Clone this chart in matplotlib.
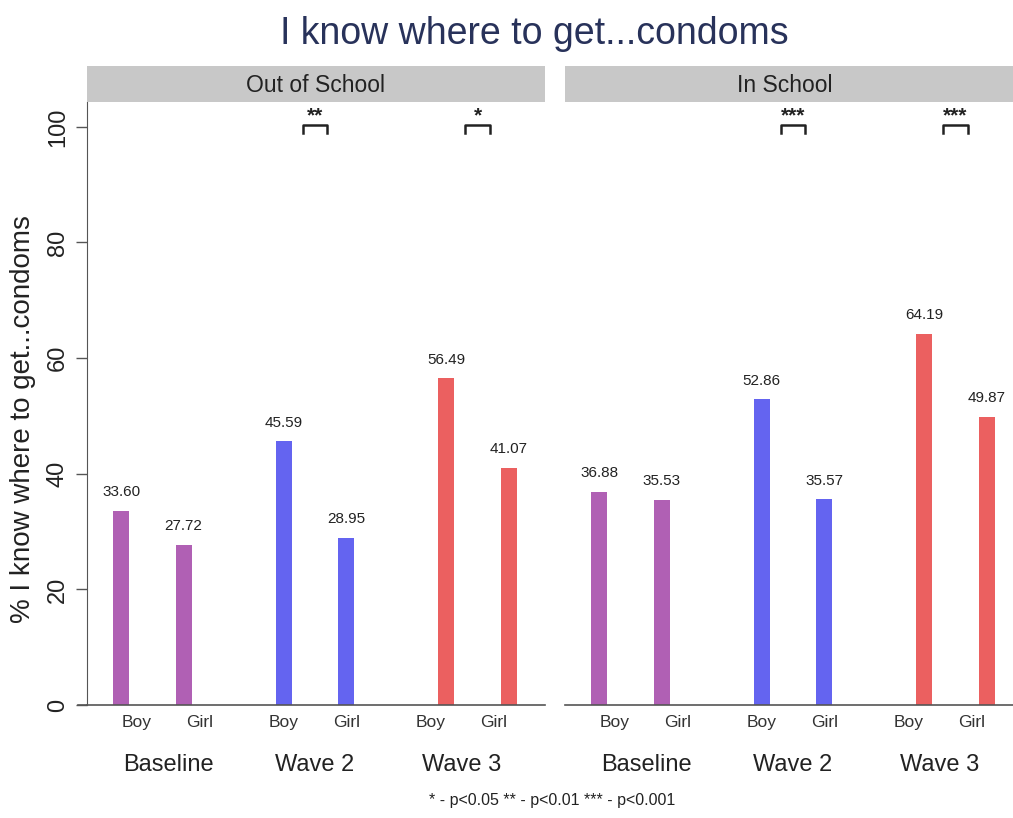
import matplotlib
matplotlib.use('Agg')
import matplotlib.pyplot as plt
import numpy as np

plt.rcParams['font.family'] = ['Liberation Sans', 'DejaVu Sans']

# data
panels = ['Out of School', 'In School']
waves = ['Baseline', 'Wave 2', 'Wave 3']
sexes = ['Boy', 'Girl']
out_school = [33.60, 27.72, 45.59, 28.95, 56.49, 41.07]
in_school = [36.88, 35.53, 52.86, 35.57, 64.19, 49.87]
stars_out = ['', '**', '*']
stars_in = ['', '***', '***']

wave_colors = ['#b060b4', '#6464f0', '#eb6060']
title_color = '#28325a'
txt = '#222222'

fig = plt.figure(figsize=(10.13, 8.18), dpi=100)

bar_mid = 4.98
bar_gap = 3.55
lab_gap = 3.21
pair_off = 0.68

lefts = [87 / 1013, 565 / 1013]
for p, (name, vals, stars) in enumerate(zip(panels, [out_school, in_school],
                                               [stars_out, stars_in])):
    ax = fig.add_axes([lefts[p], 0.1381, 0.452, 0.7372])
    xs, cols, lx = [], [], []
    for g in range(3):
        for s in range(2):
            xs.append(bar_mid + (g - 1) * bar_gap + (s - 0.5) * 2 * pair_off)
            lx.append(bar_mid + (g - 1) * lab_gap + (s - 0.5) * 2 * pair_off)
            cols.append(wave_colors[g])
    ax.bar(xs, vals, width=0.35, color=cols, zorder=2)
    for x, v in zip(xs, vals):
        ax.text(x, v + 2.0, '%.2f' % v, ha='center', va='bottom',
                fontsize=11, color=txt)
    for g in range(3):
        if stars[g]:
            c = bar_mid + (g - 1) * bar_gap
            ax.plot([c - 0.27, c - 0.27, c + 0.27, c + 0.27],
                    [99.0, 100.3, 100.3, 99.0], color=txt, lw=1.8,
                    clip_on=False)
            ax.text(c, 100.3, stars[g], ha='center', va='bottom',
                    fontsize=15, fontweight='bold', color=txt)
        ax.text(bar_mid + (g - 1) * lab_gap, -10.3, waves[g], ha='center',
                va='center', fontsize=17, color=txt)
    ax.set_xticks(lx)
    ax.set_xticklabels(sexes * 3, fontsize=12.5, color='#333333')
    ax.tick_params(axis='x', length=0, pad=7)
    ax.set_xlim(0, 10)
    ax.set_ylim(0, 104.3)
    for sp in ['top', 'right']:
        ax.spines[sp].set_visible(False)
    ax.spines['bottom'].set_color('#555555')
    ax.spines['bottom'].set_linewidth(1.2)
    if p == 0:
        ax.plot([-0.2, 0], [0, 0], color='#555555', lw=1.2, clip_on=False)
        ax.set_yticks([0, 20, 40, 60, 80, 100])
        ax.set_yticklabels(['0', '20', '40', '60', '80', '100'],
                           rotation=90, va='center', fontsize=17,
                           color=txt)
        ax.tick_params(axis='y', length=8, width=1, color='#555555', pad=5)
        ax.spines['left'].set_color('#555555')
        ax.set_ylabel('% I know where to get...condoms', fontsize=20,
                      color=txt)
        ax.yaxis.set_label_coords(-0.111, 0.474)
    else:
        ax.spines['left'].set_visible(False)
        ax.set_yticks([])
    # strip header
    hd = fig.add_axes([lefts[p], 0.8753, 0.452, 0.044])
    hd.set_facecolor('#c8c8c8')
    hd.set_xticks([])
    hd.set_yticks([])
    for sp in hd.spines.values():
        sp.set_visible(False)
    cx = 0.5 if p == 0 else 0.48
    hd.text(cx, 0.45, name, ha='center', va='center', fontsize=16.5,
            color=txt, transform=hd.transAxes)

fig.text(0.527, 0.959, 'I know where to get...condoms', ha='center',
         va='center', fontsize=27, color=title_color)
fig.text(0.545, 0.022, '* - p<0.05 ** - p<0.01 *** - p<0.001', ha='center',
         va='center', fontsize=11.5, color=txt)

fig.savefig('out.png', dpi=100)
